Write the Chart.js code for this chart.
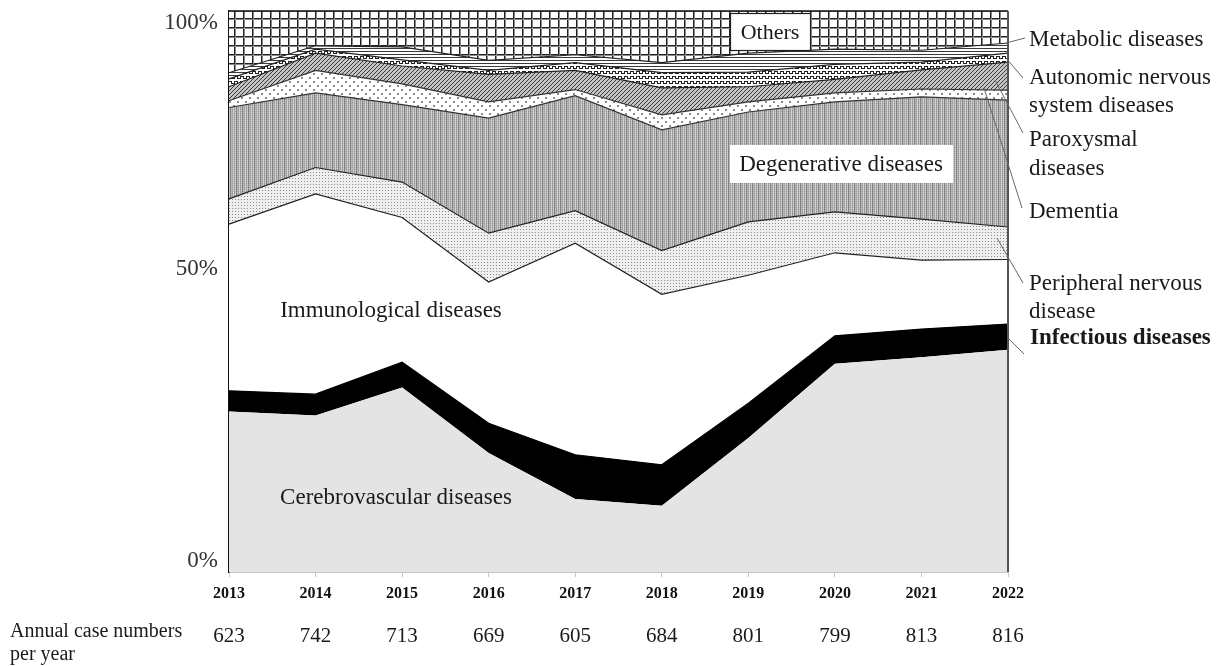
<!DOCTYPE html>
<html><head><meta charset="utf-8">
<script src="https://cdn.jsdelivr.net/npm/chart.js@4.4.1/dist/chart.umd.min.js"></script>
<style>html,body{margin:0;padding:0;background:#fff}#wrap{width:1220px;height:666px;position:relative}</style>
</head><body><div id="wrap"><canvas id="c" width="1220" height="666"></canvas></div>
<script>
// ---- data (percent share of each disease group per year) ----
const years = ['2013','2014','2015','2016','2017','2018','2019','2020','2021','2022'];
const caseNumbers = [623,742,713,669,605,684,801,799,813,816];
const cerebrovascular = [28.6,27.9,32.9,21.2,13.0,11.8,23.9,37.1,38.3,39.6];
const infectious      = [3.7,3.8,4.5,5.3,7.9,7.3,6.2,5.0,5.0,4.6];
const immunological   = [29.7,35.7,25.8,25.2,37.7,30.4,22.8,14.8,12.3,11.5];
const peripheral      = [4.5,4.7,6.3,8.7,5.8,7.8,9.5,7.3,7.3,5.8];
const degenerative    = [16.3,13.3,13.8,20.5,20.5,21.5,19.6,19.6,21.8,22.6];
const dementia        = [1.2,4.0,3.7,2.9,1.1,2.7,1.8,1.6,1.4,1.8];
const paroxysmal      = [2.5,3.1,3.2,4.9,3.4,4.8,2.7,2.4,3.4,5.0];
const autonomic       = [1.4,0.7,1.1,0.7,1.4,2.7,2.6,2.7,1.4,1.6];
const metabolic       = [1.1,0.6,2.3,1.8,1.4,1.8,3.4,2.7,2.1,1.8];
const others          = [11.0,6.2,6.4,8.8,7.8,9.2,7.5,6.8,7.0,5.7];
const yTickValues = [0,50,100];
const yTickLabels = ['0%','50%','100%'];

const SERIF = '"Liberation Serif","Times New Roman",serif';

function pat(w,h,draw){
  const c=document.createElement('canvas');c.width=w;c.height=h;
  const g=c.getContext('2d');draw(g,w,h);
  return document.createElement('canvas').getContext('2d').createPattern(c,'repeat');
}
const P = {
  cerebro: '#e4e4e4',
  infect: '#000000',
  immuno: '#ffffff',
  fineDots: pat(3,3,(g)=>{g.fillStyle='#efefef';g.fillRect(0,0,3,3);g.fillStyle='#8a8a8a';g.fillRect(1,1,1,1);}),
  vStripes: pat(6,2,(g)=>{const cols=['#959595','#c6c6c6','#777777','#b2b2b2','#9c9c9c','#cccccc'];
    cols.forEach((c,i)=>{g.fillStyle=c;g.fillRect(i,0,1,2);});g.fillStyle='rgba(255,255,255,0.15)';g.fillRect(0,0,6,1);}),
  sparseDots: pat(8,8,(g)=>{g.fillStyle='#fff';g.fillRect(0,0,8,8);g.fillStyle='#8a8a8a';g.fillRect(1,1,2,2);g.fillRect(5,5,2,2);}),
  diag: pat(4,4,(g)=>{g.fillStyle='#c4c4c4';g.fillRect(0,0,4,4);g.fillStyle='#3a3a3a';for(let i=0;i<4;i++)g.fillRect(i,3-i,1,1);}),
  wave: pat(6,5,(g)=>{g.fillStyle='#fff';g.fillRect(0,0,6,5);g.fillStyle='#222';
    g.fillRect(0,1,1,3);g.fillRect(0,1,3,1);g.fillRect(3,1,1,3);g.fillRect(3,3,3,1);}),
  hLines: pat(4,3,(g)=>{g.fillStyle='#fff';g.fillRect(0,0,4,3);g.fillStyle='#3a3a3a';g.fillRect(0,0,4,1);}),
  grid: pat(9,9,(g)=>{g.fillStyle='#fff';g.fillRect(0,0,9,9);g.fillStyle='#222';g.fillRect(0,0,9,1);g.fillRect(0,0,1,9);
    g.fillStyle='#8a8a8a';g.fillRect(0,1,9,1);g.fillRect(1,0,1,9);})
};

const series = [
  ['Cerebrovascular diseases', cerebrovascular, P.cerebro, 'rgba(0,0,0,0)'],
  ['Infectious diseases', infectious, P.infect, '#000'],
  ['Immunological diseases', immunological, P.immuno, '#222'],
  ['Peripheral nervous disease', peripheral, P.fineDots, '#222'],
  ['Degenerative diseases', degenerative, P.vStripes, '#333'],
  ['Dementia', dementia, P.sparseDots, '#333'],
  ['Paroxysmal diseases', paroxysmal, P.diag, '#222'],
  ['Autonomic nervous system diseases', autonomic, P.wave, '#222'],
  ['Metabolic diseases', metabolic, P.hLines, '#222'],
  ['Others', others, P.grid, '#222']
];

const extras = {
  id:'extras',
  afterDatasetsDraw(chart){
    const {ctx, chartArea:a, scales:{x}} = chart;
    ctx.save();
    // frame: top and right edges
    ctx.strokeStyle='#111';ctx.lineWidth=1.5;
    ctx.beginPath();ctx.moveTo(a.left,a.top);ctx.lineTo(a.right,a.top);ctx.stroke();
    ctx.strokeStyle='#555';ctx.lineWidth=2;
    ctx.beginPath();ctx.moveTo(a.right,a.top);ctx.lineTo(a.right,a.bottom);ctx.stroke();

    ctx.textBaseline='middle';
    // Others box
    ctx.fillStyle='#fff';ctx.fillRect(730,13,80,37);
    ctx.strokeStyle='#222';ctx.lineWidth=1.2;ctx.strokeRect(730.5,13.5,80,37);
    ctx.fillStyle='#1a1a1a';ctx.font='22px '+SERIF;ctx.textAlign='center';
    ctx.fillText('Others',770,33);
    // Degenerative box
    ctx.fillStyle='#fff';ctx.fillRect(730,145,223,38);
    ctx.fillStyle='#1a1a1a';ctx.font='23px '+SERIF;
    ctx.fillText('Degenerative diseases',841,165);
    ctx.fillText('Immunological diseases',391,311);
    ctx.fillText('Cerebrovascular diseases',396,498);

    // leader lines
    ctx.strokeStyle='#666';ctx.lineWidth=1;
    const leaders=[[1006,43,1025,38],[1006,58,1023,78],[995,80,1023,133],[984,88,1022,208],[997,238,1023,283],[1008,338,1024,354]];
    leaders.forEach(l=>{ctx.beginPath();ctx.moveTo(l[0],l[1]);ctx.lineTo(l[2],l[3]);ctx.stroke();});

    // right labels
    ctx.textAlign='left';ctx.font='23px '+SERIF;ctx.fillStyle='#1a1a1a';
    const rl=[['Metabolic diseases',40],['Autonomic nervous',78],['system diseases',106],['Paroxysmal',140],['diseases',169],['Dementia',212],['Peripheral nervous',284],['disease',312]];
    rl.forEach(r=>ctx.fillText(r[0],1029,r[1]));
    ctx.font='bold 23px '+SERIF;ctx.fillText('Infectious diseases',1030,338);

    // annual case numbers row
    ctx.font='20px '+SERIF;
    ctx.fillText('Annual case numbers',10,632);
    ctx.fillText('per year',10,655);
    ctx.font='21px '+SERIF;ctx.textAlign='center';
    caseNumbers.forEach((n,i)=>ctx.fillText(String(n),x.getPixelForValue(i),636));
    ctx.restore();
  }
};

// blank lines nudge each tick label the way the original figure placed them
const yLabelLines = {0:(t)=>[t,''],50:(t)=>[t,'',''],100:(t)=>['',t]};

new Chart(document.getElementById('c'),{
  type:'line',
  data:{
    labels:years,
    datasets:series.map((s,i)=>({
      label:s[0],data:s[1],backgroundColor:s[2],borderColor:s[3],
      borderWidth:i===0?0:1.2,fill:i===0?'origin':'-1',pointRadius:0,tension:0
    }))
  },
  options:{
    responsive:false,animation:false,devicePixelRatio:1,
    layout:{padding:{left:0,right:212,top:11,bottom:0}},
    plugins:{legend:{display:false},tooltip:{enabled:false}},
    scales:{
      x:{
        offset:false,
        grid:{drawOnChartArea:false,drawTicks:true,tickLength:5,color:'#c8c8c8'},
        border:{color:'#c8c8c8',width:1},
        ticks:{font:{family:SERIF,size:16,weight:'bold'},color:'#111',padding:7,maxRotation:0,autoSkip:false},
        afterFit(s){s.height=94;}
      },
      y:{
        stacked:true,min:0,max:100,
        grid:{display:false,drawTicks:false},
        border:{display:true,color:'#111',width:1.5},
        afterBuildTicks(s){s.ticks=yTickValues.map(v=>({value:v}));},
        ticks:{font:{family:SERIF,size:23,lineHeight:1},color:'#333',padding:11,
          callback:(v)=>yLabelLines[v](yTickLabels[yTickValues.indexOf(v)])},
        afterFit(s){s.width=229;s.paddingTop=0;s.paddingBottom=0;}
      }
    }
  },
  plugins:[extras]
});
</script></body></html>
